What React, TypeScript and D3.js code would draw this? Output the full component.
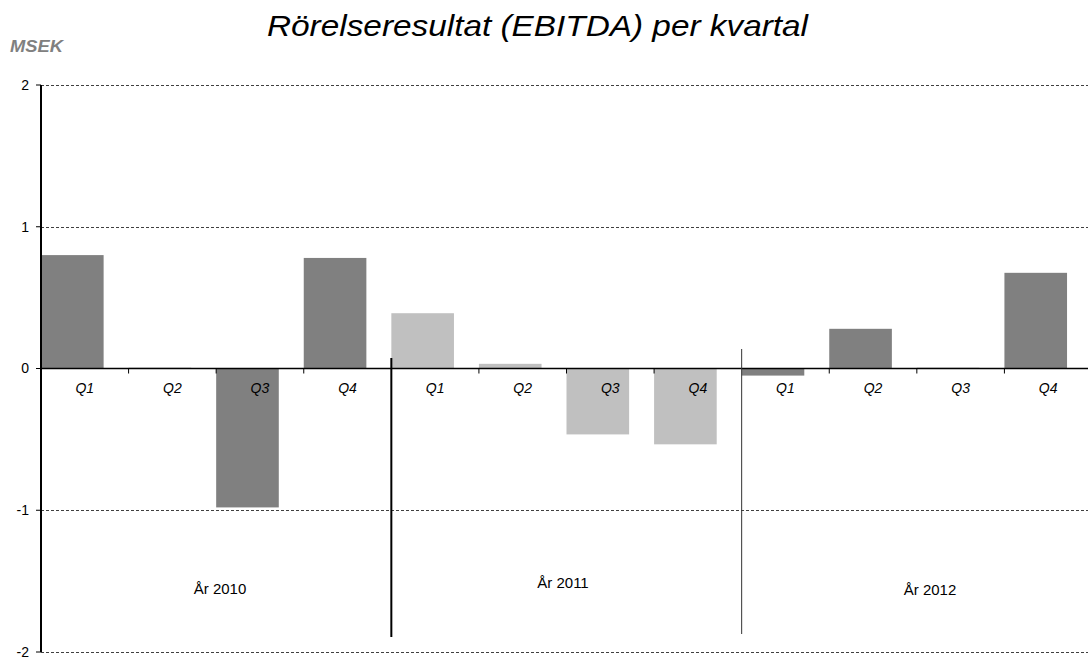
import * as d3 from "d3";

const years = ["2010", "2011", "2012"];
const quarters = ["Q1", "Q2", "Q3", "Q4"];
// EBITDA, MSEK, per quarter
const ebitda2010 = [0.8, 0.005, -0.98, 0.78];
const ebitda2011 = [0.39, 0.033, -0.465, -0.535];
const ebitda2012 = [-0.05, 0.28, 0.005, 0.675];
const yTicks = [2, 1, 0, -1, -2];
const yearLabels = ["År 2010", "År 2011", "År 2012"];

const values = [ebitda2010, ebitda2011, ebitda2012];
const barColor = ["#808080", "#c0c0c0", "#808080"];

export default function App() {
  const width = 1088;
  const height = 659;
  const marginLeft = 41;
  const marginRight = -4;
  const marginTop = 85;
  const marginBottom = 7;

  const rows = years.flatMap((yr, yi) =>
    quarters.map((q, qi) => ({ key: `${yr}-${q}`, q, yi, value: values[yi][qi] }))
  );

  const x = d3
    .scaleBand()
    .domain(rows.map((d) => d.key))
    .range([marginLeft, width - marginRight])
    .padding(0);
  const y = d3.scaleLinear([-2, 2], [height - marginBottom, marginTop]);
  const barW = x.bandwidth() * 0.715;
  const font = "Liberation Sans, Arial, sans-serif";

  const yearStart = (yi) => x(`${years[yi]}-Q1`);

  return (
    <svg
      width={width}
      height={height}
      style={{ position: "absolute", left: 0, top: 0, background: "#fff" }}
      fontFamily={font}
    >
      {/* Title */}
      <text
        x={267}
        y={36}
        fontSize={30}
        fontStyle="italic"
        fill="#000"
        textLength={541}
        lengthAdjust="spacingAndGlyphs"
      >
        Rörelseresultat (EBITDA) per kvartal
      </text>
      <text
        x={10}
        y={52}
        fontSize={17}
        fontWeight="bold"
        fontStyle="italic"
        fill="#808080"
        textLength={53}
        lengthAdjust="spacingAndGlyphs"
      >
        MSEK
      </text>

      {/* Grid */}
      {yTicks
        .filter((t) => t !== 0)
        .map((t) => (
          <line
            key={t}
            x1={marginLeft}
            x2={width}
            y1={Math.round(y(t)) + 0.5}
            y2={Math.round(y(t)) + 0.5}
            stroke="#404040"
            strokeDasharray="3,2"
          />
        ))}

      {/* Bars */}
      {rows.map((d) => (
        <rect
          key={d.key}
          x={x(d.key)}
          width={barW}
          y={y(Math.max(0, d.value))}
          height={Math.abs(y(d.value) - y(0))}
          fill={barColor[d.yi]}
        />
      ))}

      {/* Y axis */}
      <line x1={marginLeft} x2={marginLeft} y1={y(2)} y2={y(-2)} stroke="#000" strokeWidth={2} />
      {yTicks.map((t) => (
        <g key={t} transform={`translate(0,${y(t)})`}>
          <line x1={marginLeft - 5} x2={marginLeft} stroke="#000" />
          <text x={29} dy="0.35em" textAnchor="end" fontSize={14} fill="#000">
            {t}
          </text>
        </g>
      ))}

      {/* X axis at zero */}
      <line x1={marginLeft} x2={width} y1={y(0)} y2={y(0)} stroke="#000" strokeWidth={1.5} />
      {rows.map((d, i) =>
        i % 4 === 0 ? null : (
          <line key={d.key} x1={x(d.key)} x2={x(d.key)} y1={y(0)} y2={y(0) + 5} stroke="#000" />
        )
      )}
      {rows.map((d) => (
        <text
          key={d.key}
          x={x(d.key) + x.bandwidth() / 2}
          y={y(0) + 24}
          textAnchor="middle"
          fontSize={14}
          fontStyle="italic"
          fill="#000"
        >
          {d.q}
        </text>
      ))}

      {/* Year dividers */}
      <line x1={yearStart(1)} x2={yearStart(1)} y1={358} y2={637} stroke="#000" strokeWidth={2} />
      <line x1={yearStart(2)} x2={yearStart(2)} y1={349} y2={634} stroke="#333" strokeWidth={1} />

      {/* Year labels */}
      {yearLabels.map((lbl, i) => (
        <text
          key={lbl}
          x={[220, 563, 930][i]}
          y={[594, 588, 595][i]}
          textAnchor="middle"
          fontSize={15}
          fill="#000"
        >
          {lbl}
        </text>
      ))}
    </svg>
  );
}
